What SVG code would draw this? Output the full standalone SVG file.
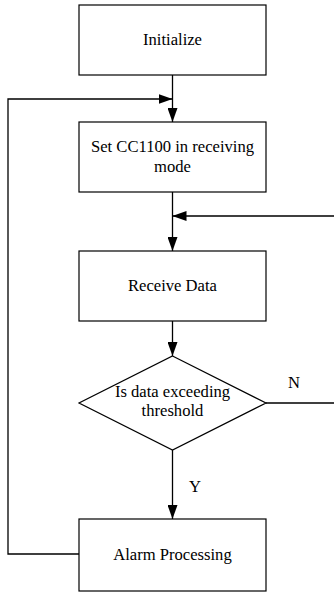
<svg xmlns="http://www.w3.org/2000/svg" width="334" height="592" viewBox="0 0 334 592">
<style>
.box{fill:#fff;stroke:#000;stroke-width:1.2}
.ln{fill:none;stroke:#000;stroke-width:1.3}
.t{font-family:'Liberation Serif','Times New Roman',serif;font-size:16.6px;fill:#000;text-anchor:middle}
</style>
<defs>
<marker id="ah" viewBox="0 0 14 10" refX="14" refY="5" markerWidth="14" markerHeight="10" markerUnits="userSpaceOnUse" orient="auto">
<path d="M0,0 L14,5 L0,10 Z" fill="#000"/>
</marker>
</defs>
<rect width="334" height="592" fill="#fff"/>
<g id="connectors">
<path class="ln" d="M172.5,75 V122" marker-end="url(#ah)"/>
<path class="ln" d="M79,554 H8 V99 H172.5" marker-end="url(#ah)"/>
<path class="ln" d="M172.5,192 V251" marker-end="url(#ah)"/>
<path class="ln" d="M266,403 H340 V216 H172.5" marker-end="url(#ah)"/>
<path class="ln" d="M172.5,321 V356" marker-end="url(#ah)"/>
<path class="ln" d="M172.5,450 V519" marker-end="url(#ah)"/>
<text class="t" x="294" y="388">N</text>
<text class="t" x="195" y="492">Y</text>
</g>
<g id="initialize">
<rect class="box" x="79" y="5" width="187" height="70"/>
<text class="t" x="172.5" y="45">Initialize</text>
</g>
<g id="set-cc1100">
<rect class="box" x="79" y="122" width="187" height="70"/>
<text class="t" x="172.5" y="152">Set CC1100 in receiving</text>
<text class="t" x="172.5" y="172">mode</text>
</g>
<g id="receive-data">
<rect class="box" x="79" y="251" width="187" height="70"/>
<text class="t" x="172.5" y="291">Receive Data</text>
</g>
<g id="decision">
<polygon class="box" points="172.5,356 266,403 172.5,450 79,403"/>
<text class="t" x="172.5" y="397">Is data exceeding</text>
<text class="t" x="172.5" y="416">threshold</text>
</g>
<g id="alarm">
<rect class="box" x="79" y="519" width="187" height="72"/>
<text class="t" x="172.5" y="560">Alarm Processing</text>
</g>
</svg>
